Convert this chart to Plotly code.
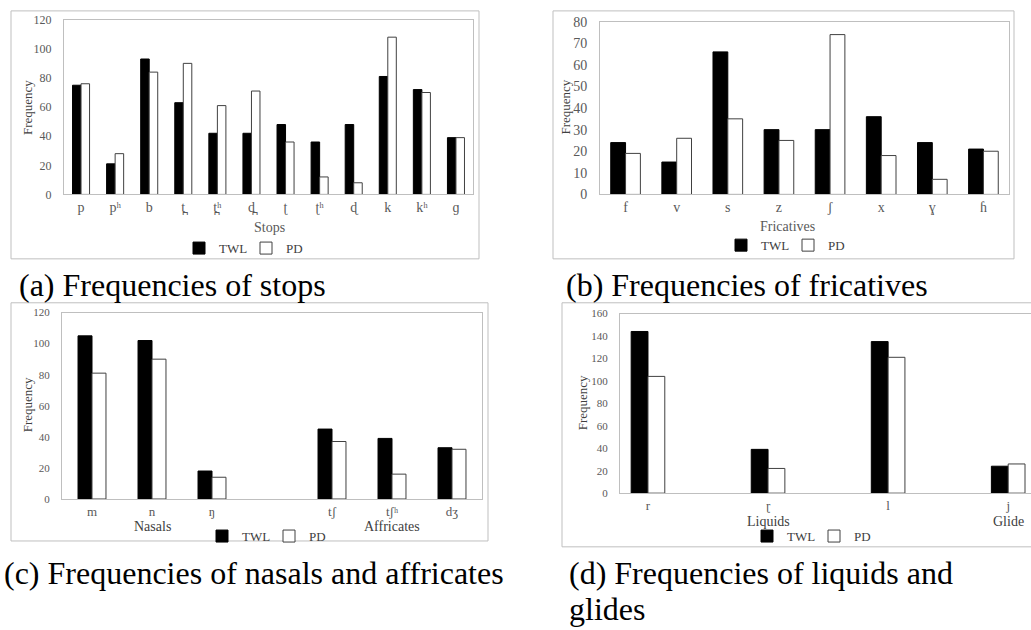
import plotly.graph_objects as go

# ---------------- data ----------------
stops_cats = ["p", "pʰ", "b", "t̪", "t̪ʰ", "d̪", "ʈ", "ʈʰ", "ɖ", "k", "kʰ", "ɡ"]
stops_twl = [75, 21, 93, 63, 42, 42, 48, 36, 48, 81, 72, 39]
stops_pd = [76, 28, 84, 90, 61, 71, 36, 12, 8, 108, 70, 39]

fric_cats = ["f", "v", "s", "z", "ʃ", "x", "ɣ", "ɦ"]
fric_twl = [24, 15, 66, 30, 30, 36, 24, 21]
fric_pd = [19, 26, 35, 25, 74, 18, 7, 20]

nasaff_cats = ["m", "n", "ŋ", " ", "tʃ", "tʃʰ", "dʒ"]
nasaff_twl = [105, 102, 18, None, 45, 39, 33]
nasaff_pd = [81, 90, 14, None, 37, 16, 32]
nasaff_groups = [("Nasals", "n"), ("Affricates", "tʃʰ")]

liq_cats = ["r", "ɽ", "l", "j"]
liq_twl = [144, 39, 135, 24]
liq_pd = [104, 22, 121, 26]
liq_groups = [("Liquids", "ɽ"), ("Glide", "j")]

series_names = ["TWL", "PD"]
caption_lines = ["(a) Frequencies of stops", "(b) Frequencies of fricatives",
                 "(c) Frequencies of nasals and affricates",
                 "(d) Frequencies of liquids and", "glides"]

# ---------------- layout helpers ----------------
W, H = 1031, 630
SERIF = "Times New Roman, Liberation Serif, serif"
GRAY = "#595959"
DARK = "#404040"
BORDER = "#bfbfbf"


def px(x):
    return x / W


def py(y):
    return 1 - y / H


panels = [
    dict(cats=stops_cats, twl=stops_twl, pd=stops_pd, bw=0.25,
         plot=(64, 13, 473, 192), yr=(0, 120), dtick=20, ytf=12, xtf=14,
         xr=None, title=("Stops", 269, 226), ftitle=(27.5, 103),
         legend=(246, 247), box=(11, 4, 479, 258), groups=None),
    dict(cats=fric_cats, twl=fric_twl, pd=fric_pd, bw=0.29,
         plot=(600, 15, 1009, 192), yr=(0, 80), dtick=10, ytf=14, xtf=14,
         xr=None, title=("Fricatives", 787, 225), ftitle=(566, 103),
         legend=(788, 244), box=(553, 4, 1014, 258), groups=None),
    dict(cats=nasaff_cats, twl=nasaff_twl, pd=nasaff_pd, bw=0.233,
         plot=(62, 313, 482, 504), yr=(0, 120), dtick=20, ytf=11, xtf=13,
         xr=None, title=None, ftitle=(27, 408),
         legend=(269, 542), box=(11, 303, 488, 547), groups=(nasaff_groups, 532)),
    dict(cats=liq_cats, twl=liq_twl, pd=liq_pd, bw=0.14,
         plot=(620, 314, 1031, 498), yr=(0, 160), dtick=20, ytf=11, xtf=13,
         xr=(-0.233, 3.19), title=None, ftitle=(582, 406),
         legend=(814, 542), box=(562, 303, 1040, 553), groups=(liq_groups, 527)),
]

fig = go.Figure()
annotations = []
shapes = []
layout_axes = {}

for i, p in enumerate(panels):
    n = i + 1
    sfx = "" if n == 1 else str(n)
    xa, ya = "x" + sfx, "y" + sfx
    leg = "legend" + sfx
    for name, vals, fill, lc in [(series_names[0], p["twl"], "black", "black"),
                                 (series_names[1], p["pd"], "white", DARK)]:
        fig.add_trace(go.Bar(
            x=p["cats"], y=vals, name=name, xaxis=xa, yaxis=ya,
            width=p["bw"], offset=-p["bw"] if name == "TWL" else 0,
            marker=dict(color=fill, line=dict(color=lc, width=1)),
            legend=leg, showlegend=True))
    x0, y0, x1, y1 = p["plot"]
    xr = p["xr"] if p["xr"] else (-0.5, len(p["cats"]) - 0.5)
    layout_axes["xaxis" + sfx] = dict(
        domain=[px(x0), px(x1)], anchor=ya, type="category",
        range=list(xr), showline=True, linecolor=BORDER, linewidth=1,
        mirror=True, showgrid=False, zeroline=False, ticks="",
        ticklabelstandoff=0,
        tickfont=dict(family=SERIF, size=p["xtf"], color=GRAY))
    layout_axes["yaxis" + sfx] = dict(
        domain=[py(y1), py(y0)], anchor=xa, range=list(p["yr"]),
        dtick=p["dtick"], showline=True, linecolor=BORDER, linewidth=1,
        mirror=(n != 4), showgrid=False, zeroline=False, ticks="",
        ticklabelstandoff=9,
        tickfont=dict(family=SERIF, size=p["ytf"], color=GRAY))
    layout_axes[leg] = dict(
        orientation="h", x=px(p["legend"][0]), y=py(p["legend"][1]),
        xanchor="center", yanchor="middle", bgcolor="rgba(0,0,0,0)",
        font=dict(family=SERIF, size=13, color=DARK), itemwidth=30,
        entrywidth=22, tracegroupgap=0)
    # y title
    annotations.append(dict(
        text="Frequency", x=px(p["ftitle"][0]), y=py(p["ftitle"][1]),
        xref="paper", yref="paper", textangle=-90, showarrow=False,
        xanchor="center", yanchor="middle",
        font=dict(family=SERIF, size=13, color=DARK)))
    # x titles
    if p["title"]:
        t, tx, ty = p["title"]
        annotations.append(dict(
            text=t, x=px(tx), y=py(ty), xref="paper", yref="paper",
            showarrow=False, xanchor="center", yanchor="middle",
            font=dict(family=SERIF, size=14, color=GRAY)))
    if p["groups"]:
        grps, gy = p["groups"]
        for t, cat in grps:
            annotations.append(dict(
                text=t, x=cat, xref=xa, y=py(gy), yref="paper",
                showarrow=False, xanchor="center", yanchor="middle",
                font=dict(family=SERIF, size=14, color=DARK)))
    # outer box
    bx0, by0, bx1, by1 = p["box"]
    shapes.append(dict(type="rect", xref="paper", yref="paper",
                       x0=px(bx0), x1=px(bx1), y0=py(by1), y1=py(by0),
                       line=dict(color=BORDER, width=1), layer="below"))

# captions
cap_pos = [(17, 285), (564, 285), (2, 580), (567, 580), (567, 617)]
for c, (cx, cy) in zip(caption_lines, cap_pos):
    annotations.append(dict(
        text=c, x=px(cx), y=py(cy), xref="paper", yref="paper",
        showarrow=False, xanchor="left", yanchor="middle", align="left",
        font=dict(family=SERIF, size=32, color="black")))

fig.update_layout(
    width=W, height=H, margin=dict(l=0, r=0, t=0, b=0),
    paper_bgcolor="white", plot_bgcolor="white", barmode="overlay",
    annotations=annotations, shapes=shapes, **layout_axes)

fig.write_html("out.html", config={"displayModeBar": False},
               post_script="document.body.style.margin='0';"
                           "document.body.style.overflow='hidden';")
